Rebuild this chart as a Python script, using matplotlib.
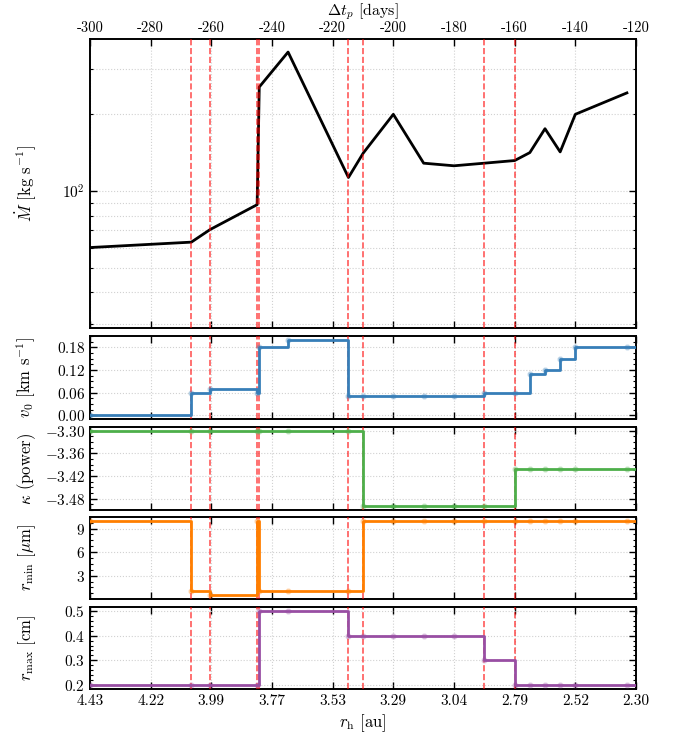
import matplotlib
matplotlib.use('Agg')
import matplotlib.pyplot as plt
from matplotlib.ticker import MultipleLocator, AutoMinorLocator, NullFormatter

plt.rcParams['font.family'] = 'serif'
plt.rcParams['font.serif'] = ['cmr10', 'DejaVu Serif']
plt.rcParams['mathtext.fontset'] = 'cm'
plt.rcParams['axes.formatter.use_mathtext'] = True
plt.rcParams['font.size'] = 11
plt.rcParams['xtick.direction'] = 'in'
plt.rcParams['ytick.direction'] = 'in'
plt.rcParams['xtick.top'] = True
plt.rcParams['ytick.right'] = True

# epochs (days from perihelion) of the model fits
days = [-300, -266.6, -260.4, -244.9, -244.2, -234.7, -214.8, -209.9, -200,
        -190, -180, -170, -160, -155, -150, -145, -140, -123]
mdot = [60, 63, 70.6, 88.4, 256, 351, 113, 141, 200,
        128.6, 125.6, 128.6, 131.7, 141.5, 175.6, 142.4, 200, 242.7]
v0 = [0.0, 0.06, 0.07, 0.06, 0.18, 0.20, 0.05, 0.05, 0.05,
      0.05, 0.05, 0.06, 0.06, 0.11, 0.12, 0.15, 0.18, 0.18]
kappa = [-3.3, -3.3, -3.3, -3.3, -3.3, -3.3, -3.3, -3.5, -3.5,
         -3.5, -3.5, -3.5, -3.4, -3.4, -3.4, -3.4, -3.4, -3.4]
rmin = [10, 1, 0.5, 10, 1, 1, 1, 10, 10,
        10, 10, 10, 10, 10, 10, 10, 10, 10]
rmax = [0.2, 0.2, 0.2, 0.2, 0.5, 0.5, 0.4, 0.4, 0.4,
        0.4, 0.4, 0.3, 0.2, 0.2, 0.2, 0.2, 0.2, 0.2]

# change epochs marked by dashed lines
breaks = [-266.6, -260.4, -244.9, -244.2, -214.8, -209.9, -170, -160]

day_ticks = [-300, -280, -260, -240, -220, -200, -180, -160, -140, -120]
rh_labels = ['4.43', '4.22', '3.99', '3.77', '3.53', '3.29', '3.04', '2.79', '2.52', '2.30']
t_end = -120

W, H = 675, 737
fig = plt.figure(figsize=(W / 100, H / 100), dpi=100)
left, right = 90, 636
panel_px = [(39, 328), (336, 419), (427, 510), (517, 599), (607, 689)]
axes = []
for top, bot in panel_px:
    ax = fig.add_axes([left / W, 1 - bot / H, (right - left) / W, (bot - top) / H])
    axes.append(ax)

for ax in axes:
    ax.set_xlim(-300, t_end)
    ax.set_xticks(day_ticks)
    ax.tick_params(which='major', length=5, width=1)
    ax.tick_params(which='minor', length=2.5, width=0.8)
    ax.tick_params(axis='x', labelbottom=False, pad=3)
    ax.grid(True, which='major', ls=':', color='0.82', lw=0.8)
    for s in ax.spines.values():
        s.set_linewidth(1.4)
    for b in breaks:
        ax.axvline(b, color='red', ls='--', lw=1.2, alpha=0.65, zorder=3)
    ax.set_axisbelow(True)

# top panel: mass loss rate
ax = axes[0]
ax.plot(days, mdot, color='k', lw=2)
ax.set_yscale('log')
ax.set_ylim(29, 395)
ax.yaxis.set_minor_formatter(NullFormatter())
ax.grid(True, which='minor', axis='y', ls=':', color='0.82', lw=0.8)
ax.tick_params(axis='x', labeltop=True, labelsize=10.5)
ax.set_xticklabels([str(d) for d in day_ticks])
ax.xaxis.set_label_position('top')
ax.set_xlabel(r'$\Delta t_p$ [days]', fontsize=11.5, labelpad=4)
ax.set_ylabel(r'$\dot{M}$ [kg s$^{-1}$]', fontsize=12)

steps = [
    (v0, '#377eb8', r'$v_0$ [km s$^{-1}$]', 0.06),
    (kappa, '#4daf4a', r'$\kappa$ (power)', 0.06),
    (rmin, '#ff7f00', r'$r_{\rm min}$ [$\mu$m]', 3),
    (rmax, '#984ea3', r'$r_{\rm max}$ [cm]', 0.1),
]
for ax, (vals, col, lab, step) in zip(axes[1:], steps):
    ax.step(days + [t_end], vals + [vals[-1]], where='post', color=col, lw=2, zorder=4)
    ax.plot(days, vals, 'o', ms=3.5, color=col, alpha=0.25, zorder=4)
    ax.yaxis.set_major_locator(MultipleLocator(step))
    ax.yaxis.set_minor_locator(AutoMinorLocator())
    ax.set_ylabel(lab, fontsize=12)

axes[3].set_yticks([3, 6, 9])
axes[3].yaxis.set_minor_locator(AutoMinorLocator())

bax = axes[-1]
bax.tick_params(axis='x', labelbottom=True, pad=4)
bax.set_xticklabels(rh_labels)
bax.set_xlabel(r'$r_{\rm h}$ [au]', fontsize=12, labelpad=3)

for ax in axes:
    ax.yaxis.set_label_coords(-0.095, 0.5)

fig.savefig('out.png', dpi=100)
